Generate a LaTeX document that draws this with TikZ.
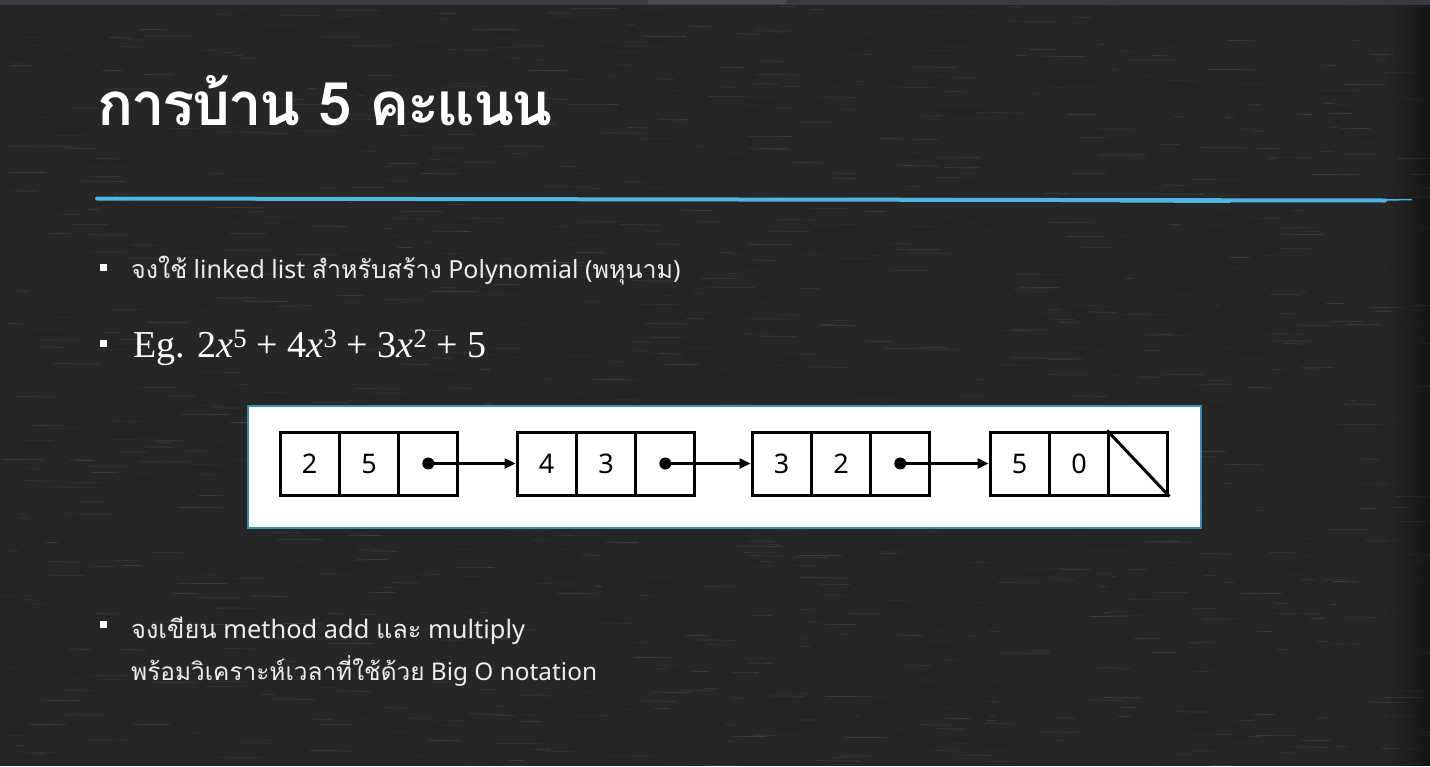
\documentclass[tikz,border=0pt]{standalone}
\usepackage{fontspec}
\setmainfont{Noto Sans}
\newfontfamily\thai[Script=Thai]{Loma}
\newfontfamily\thaititle[Script=Thai,LetterSpace=-4]{Loma}
\newfontfamily\serif{Liberation Serif}
\usetikzlibrary{arrows.meta}
\definecolor{bg}{HTML}{262626}
\definecolor{chrome}{HTML}{3A3A40}
\definecolor{chromehi}{HTML}{4A4A52}
\definecolor{accent}{HTML}{4DB6E2}
\definecolor{boxborder}{HTML}{3A8FB0}
\definecolor{txt}{HTML}{EDEDED}
\tikzset{
  bulletsq/.style={fill=white, minimum size=7pt, inner sep=0pt, outer sep=0pt},
  cell/.style={draw=black, line width=3pt, minimum width=59.3pt, minimum height=63pt, inner sep=0pt, font=\fontsize{27}{30}\selectfont},
  link/.style={line width=2.5pt, -{Triangle[length=11pt,width=10pt]}},
  bodytxt/.style={anchor=base west, inner sep=0pt, text=txt},
}
\begin{document}
\begin{tikzpicture}[x=1pt,y=-1pt]
\useasboundingbox (0,0) rectangle (1430,766);
\fill[bg] (0,0) rectangle (1430,766);
\pgfmathsetseed{7}
\foreach \i in {1,...,1100}{
  \pgfmathsetmacro\xx{rnd*1430}
  \pgfmathsetmacro\yy{rnd*766}
  \pgfmathsetmacro\ll{5+rnd*45}
  \pgfmathsetmacro\oo{0.03+rnd*0.08}
  \draw[white, opacity=\oo, line width=0.7pt] (\xx,\yy) -- ++(\ll,0.3);
}
\foreach \k in {0,...,7}{
  \fill[black, opacity=0.05] (1390+\k*5,5) rectangle (1430,766);
}
\fill[chrome] (0,0) rectangle (1430,5);
\fill[chromehi] (648,0) rectangle (786,4);
% title
\node[anchor=base west, inner sep=0pt, text=white, font=\thaititle\bfseries\fontsize{60}{72}\selectfont] (title) at (97,125) {การบ้าน 5 คะแนน};
% blue rule
\draw[accent, line width=4pt, line cap=round] (97,198.5) -- (1385,200.5);
\draw[accent, line width=2pt] (150,197.5) -- (420,197.5);
\draw[accent, line width=2.5pt] (850,199) -- (1060,199.5);
\draw[accent, line width=2pt] (1120,201.5) -- (1230,202);
\draw[accent, line width=1.5pt] (1385,200) -- (1412,199.5);
% bullets
\node[bulletsq] (b1) at (103.5,267.5) {};
\node[bodytxt, font=\fontsize{25}{30}\selectfont] (t1) at (131,278) {{\thai จงใช้} linked list {\thai สำหรับสร้าง} Polynomial ({\thai พหุนาม})};
\node[bulletsq] (b2) at (103.5,343.5) {};
\node[anchor=base west, inner sep=0pt, text=white, font=\serif\fontsize{38}{44}\selectfont] (t2) at (133,357) {Eg. 2\textit{x}\textsuperscript{5} + 4\textit{x}\textsuperscript{3} + 3\textit{x}\textsuperscript{2} + 5};
\node[bulletsq] (b3) at (103.5,624.5) {};
\node[bodytxt, font=\fontsize{25.4}{30}\selectfont] (t3) at (131,638) {{\thai จงเขียน} method add {\thai และ} multiply};
\node[bodytxt, font=\fontsize{24.4}{30}\selectfont] (t4) at (131,680) {{\thai พร้อมวิเคราะห์เวลาที่ใช้ด้วย} Big O notation};
% white box
\node[draw=boxborder, fill=white, line width=2pt, minimum width=953pt, minimum height=122pt, anchor=north west, inner sep=0pt] (box) at (247,405) {};
% linked list
\node[cell] (n1a) at (309.7,463.5) {2};
\node[cell] (n1b) at (369,463.5) {5};
\node[cell] (n1c) at (428.3,463.5) {};
\node[cell] (n2a) at (546.7,463.5) {4};
\node[cell] (n2b) at (606,463.5) {3};
\node[cell] (n2c) at (665.3,463.5) {};
\node[cell] (n3a) at (781.7,463.5) {3};
\node[cell] (n3b) at (841,463.5) {2};
\node[cell] (n3c) at (900.3,463.5) {};
\node[cell] (n4a) at (1019.7,463.5) {5};
\node[cell] (n4b) at (1079,463.5) {0};
\node[cell] (n4c) at (1138.3,463.5) {};
\draw[line width=3pt] (n4c.north west) -- (n4c.south east);
\foreach \s/\t in {n1c/n2a, n2c/n3a, n3c/n4a}{
  \fill (\s.center) circle (6pt);
  \draw[link] (\s.center) -- (\t.west);
}
\end{tikzpicture}
\end{document}
